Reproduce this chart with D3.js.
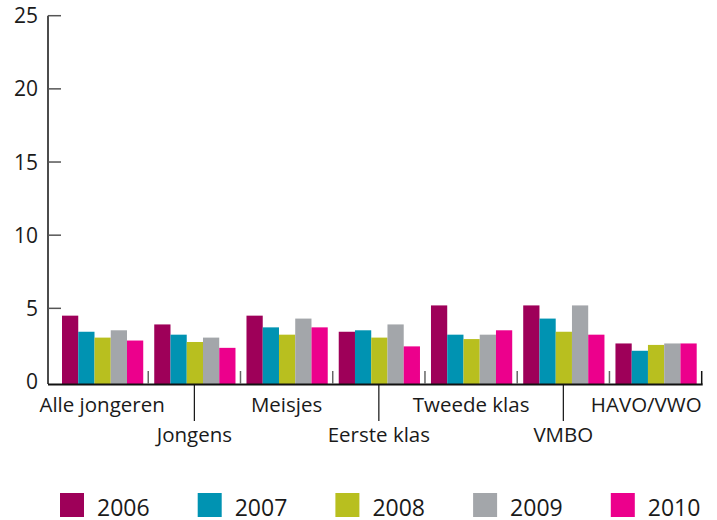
<!DOCTYPE html>
<html lang="nl">

<head>
    <meta charset="UTF-8" />
    <title>Jongeren 2006-2010</title>
    <style>
        body { margin: 0; background: #fff; }
        text { font-family: "Open Sans", "DejaVu Sans", sans-serif; fill: #1a1a1a; }
    </style>
</head>

<body>
    <div id="container"></div>
</body>
<script src="https://cdnjs.cloudflare.com/ajax/libs/d3/7.1.1/d3.min.js"></script>
<script>
    // data
    const groups = ['Alle jongeren', 'Jongens', 'Meisjes', 'Eerste klas', 'Tweede klas', 'VMBO', 'HAVO/VWO']
    const years = ['2006', '2007', '2008', '2009', '2010']
    const v2006 = [4.5, 3.9, 4.5, 3.4, 5.2, 5.2, 2.6]
    const v2007 = [3.4, 3.2, 3.7, 3.5, 3.2, 4.3, 2.1]
    const v2008 = [3.0, 2.7, 3.2, 3.0, 2.9, 3.4, 2.5]
    const v2009 = [3.5, 3.0, 4.3, 3.9, 3.2, 5.2, 2.6]
    const v2010 = [2.8, 2.3, 3.7, 2.4, 3.5, 3.2, 2.6]
    const yTicks = [0, 5, 10, 15, 20, 25]
    const colors = ['#9e0059', '#0093b2', '#b8bf1f', '#a3a6aa', '#ec008c']

    const series = [v2006, v2007, v2008, v2009, v2010]
    const rows = groups.map((g, i) => ({ group: g, values: years.map((y, j) => ({ year: y, v: series[j][i] })) }))

    const W = 717, H = 520
    const axisX = 48, baseY = 384
    const svg = d3.select('#container').append('svg').attr('width', W).attr('height', H)

    // scales
    let y = d3.scaleLinear().domain([0, 25]).range([381.5, 15.7])
    let x0 = d3.scaleBand().domain(groups).range([56, 701.7])
    let x1 = d3.scaleBand().domain(years).range([6, x0.bandwidth() - 5])
    let color = d3.scaleOrdinal().domain(years).range(colors)

    // y axis
    svg.append('line').attr('x1', axisX).attr('x2', axisX).attr('y1', y(25)).attr('y2', baseY)
        .attr('stroke', '#111').attr('stroke-width', 1.5)
    svg.selectAll('.ytick').data(yTicks.filter(d => d > 0)).enter().append('line')
        .attr('x1', axisX).attr('x2', axisX + 13)
        .attr('y1', d => y(d)).attr('y2', d => y(d))
        .attr('stroke', '#555').attr('stroke-width', 1.5)
    svg.selectAll('.ylab').data(yTicks).enter().append('text')
        .attr('x', 38).attr('y', d => y(d)).attr('dy', '0.36em')
        .attr('text-anchor', 'end').style('font-size', '21px')
        .text(d => d)

    // bars
    let g = svg.selectAll('.grp').data(rows).enter().append('g')
        .attr('transform', d => `translate(${x0(d.group)},0)`)
    g.selectAll('rect').data(d => d.values).enter().append('rect')
        .attr('x', d => x1(d.year))
        .attr('width', x1.bandwidth())
        .attr('y', d => y(d.v))
        .attr('height', d => baseY - y(d.v))
        .style('fill', d => color(d.year))

    // x axis
    svg.append('line').attr('x1', axisX).attr('x2', x0.range()[1] + 1).attr('y1', baseY + 0.5).attr('y2', baseY + 0.5)
        .attr('stroke', '#111').attr('stroke-width', 2)
    svg.selectAll('.sep').data(groups).enter().append('line')
        .attr('x1', d => x0(d) + x0.bandwidth()).attr('x2', d => x0(d) + x0.bandwidth())
        .attr('y1', baseY - 13).attr('y2', baseY)
        .attr('stroke', (d, i) => i == groups.length - 1 ? '#111' : '#666').attr('stroke-width', 1.5)

    // labels, every second one lower with a leader line
    const last = groups.length - 1
    svg.selectAll('.lead').data(groups.filter((d, i) => i % 2 == 1)).enter().append('line')
        .attr('x1', d => x0(d) + x0.bandwidth() / 2).attr('x2', d => x0(d) + x0.bandwidth() / 2)
        .attr('y1', baseY).attr('y2', 421)
        .attr('stroke', '#111').attr('stroke-width', 1.2)
    svg.selectAll('.xlab').data(groups).enter().append('text')
        .attr('x', (d, i) => i == last ? x0(d) + x0.bandwidth() : x0(d) + x0.bandwidth() / 2)
        .attr('y', (d, i) => i % 2 == 0 ? 411.5 : 442)
        .attr('text-anchor', (d, i) => i == last ? 'end' : 'middle').style('font-size', '20.5px')
        .text(d => d)

    // legend
    let lg = svg.selectAll('.leg').data(years).enter().append('g')
        .attr('transform', (d, i) => `translate(${60 + i * 137.7},493)`)
    lg.append('rect').attr('width', 24).attr('height', 24).style('fill', d => color(d))
    lg.append('text').attr('x', 37).attr('y', 23).style('font-size', '23px').text(d => d)
</script>

</html>
